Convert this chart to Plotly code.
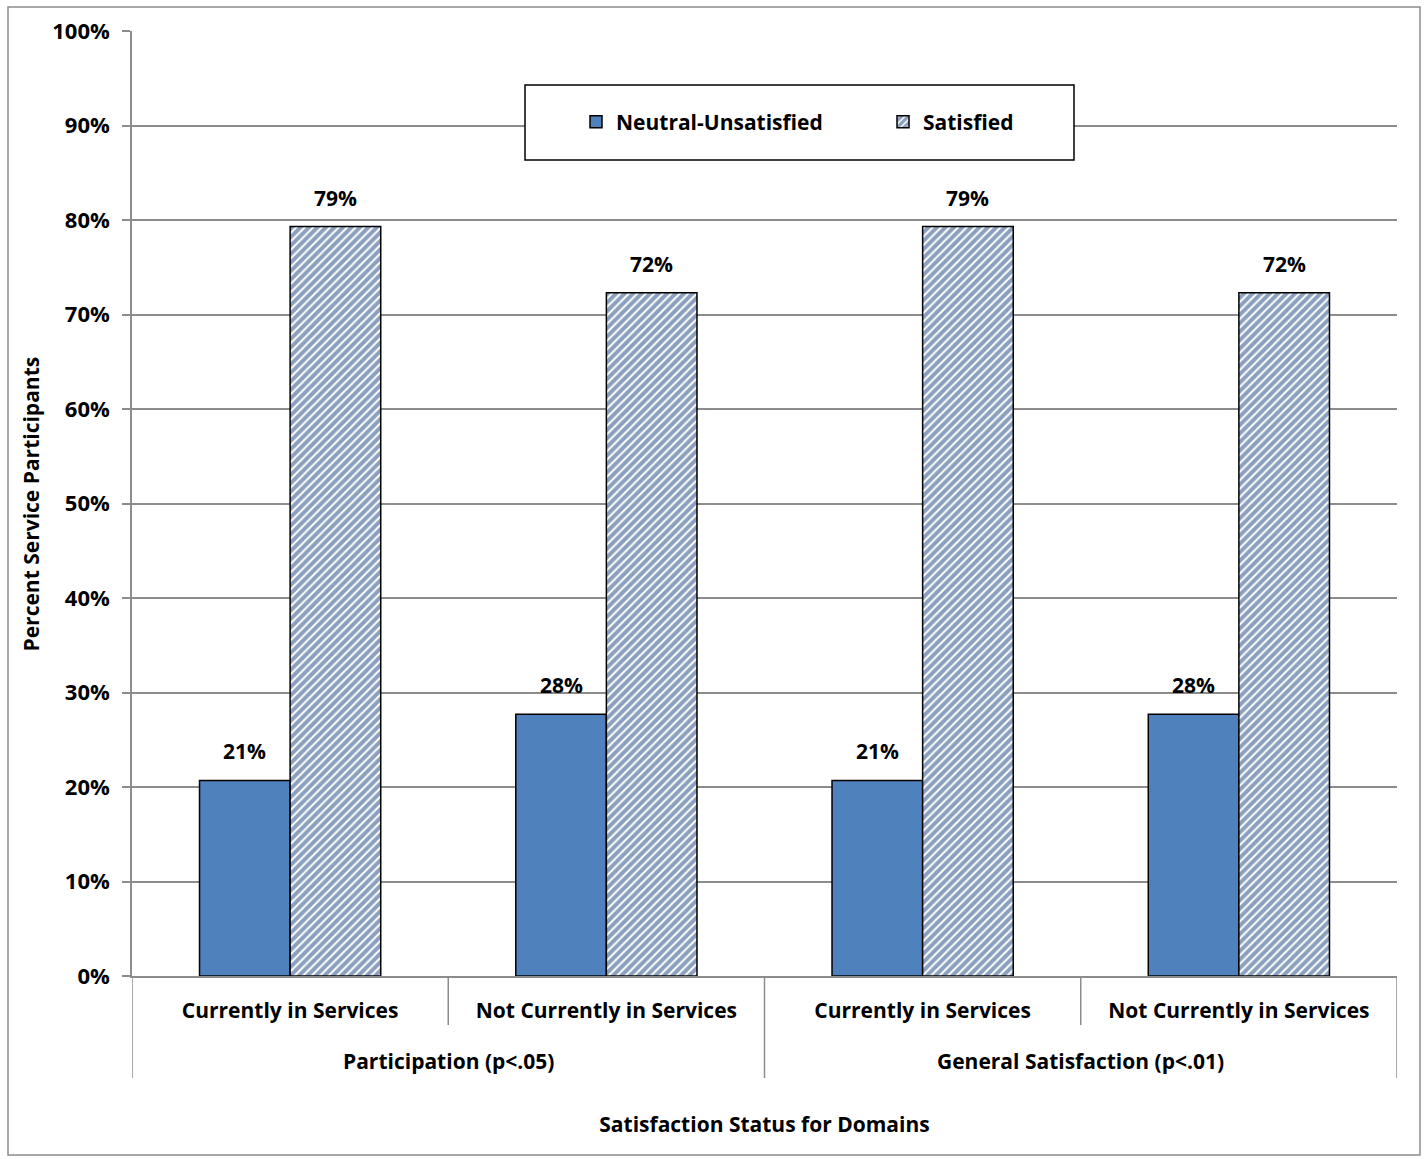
import plotly.graph_objects as go

# Survey results: share of service participants by satisfaction status
domains = ["Participation (p<.05)", "General Satisfaction (p<.01)"]
status = ["Currently in Services", "Not Currently in Services",
          "Currently in Services", "Not Currently in Services"]
neutral_unsatisfied = [20.7, 27.7, 20.7, 27.7]
satisfied = [79.3, 72.3, 79.3, 72.3]
y_ticks = list(range(0, 101, 10))

FONT = "Open Sans"
BLUE = "#4F81BD"
STRIPE = "#17427D"
GRID = "#8C8C8C"
BAR_GAP = 0.427

pos = list(range(len(status)))

fig = go.Figure()
fig.add_trace(go.Bar(
    name="Neutral-Unsatisfied", x=pos, y=neutral_unsatisfied,
    marker=dict(color=BLUE, line=dict(color="black", width=1.5)),
))
fig.add_trace(go.Bar(
    name="Satisfied", x=pos, y=satisfied,
    marker=dict(color="white", line=dict(color="black", width=1.5),
                pattern=dict(shape="/", fgcolor=STRIPE, bgcolor="white",
                             size=6, solidity=0.68, fillmode="overlay")),
))

# value labels above each bar
half = (1 - BAR_GAP) / 4
for i in pos:
    for off, vals in ((-half, neutral_unsatisfied), (half, satisfied)):
        fig.add_annotation(x=i + off, y=vals[i], text=f"{vals[i]:.0f}%",
                           showarrow=False, yanchor="bottom", yshift=13,
                           font=dict(family=FONT, size=21, weight="bold"))

# category dividers below the axis
for b in [p - 0.5 for p in pos] + [pos[-1] + 0.5]:
    outer = (b + 0.5) % 2 == 0
    fig.add_shape(type="line", xref="x", yref="paper", x0=b, x1=b,
                  y0=0, y1=-(102 if outer else 49) / 945,
                  line=dict(color=GRID, width=1.5))

# domain labels (second row of the category axis)
for g, name in enumerate(domains):
    fig.add_annotation(x=2 * g + 0.5, y=0, yref="paper", yshift=-85,
                       text=name, showarrow=False, yanchor="middle",
                       font=dict(family=FONT, size=21, weight="bold"))

# y-axis title
fig.add_annotation(x=(30 - 132) / 1265, xref="paper", y=0.5, yref="paper",
                   text="Percent Service Participants", textangle=-90,
                   showarrow=False, xanchor="center", yanchor="middle",
                   font=dict(family=FONT, size=21, weight="bold"))

# legend frame
fig.add_shape(type="rect", xref="paper", yref="paper",
              x0=(525 - 132) / 1265, x1=(1074 - 132) / 1265,
              y0=1 - (160 - 31) / 945, y1=1 - (85 - 31) / 945,
              line=dict(color="black", width=1.5), fillcolor="white",
              layer="above")
# outer chart border
fig.add_shape(type="rect", xref="paper", yref="paper",
              x0=(8 - 132) / 1265, x1=(1420 - 132) / 1265,
              y0=1 - (1155 - 31) / 945, y1=1 - (7 - 31) / 945,
              line=dict(color=GRID, width=1.5), fillcolor="rgba(0,0,0,0)",
              layer="below")

fig.update_layout(
    width=1428, height=1159,
    margin=dict(l=132, r=31, t=31, b=183),
    paper_bgcolor="white", plot_bgcolor="white",
    barmode="group", bargap=BAR_GAP, bargroupgap=0,
    font=dict(family=FONT, size=21, color="black"),
    showlegend=True,
    legend=dict(orientation="h", x=(576 - 132) / 1265, xanchor="left",
                y=1 - (122 - 31) / 945, yanchor="middle",
                bgcolor="rgba(0,0,0,0)", borderwidth=0,
                font=dict(family=FONT, size=21, color="black", weight="bold"),
                entrywidth=262, itemwidth=30),
    xaxis=dict(
        range=[-0.5, 3.5], tickvals=pos, ticktext=status,
        showline=True, linecolor=GRID, linewidth=1.5,
        ticks="", showgrid=False, zeroline=False,
        tickfont=dict(family=FONT, size=21, color="black", weight="bold"),
        ticklabelstandoff=15,
        title=dict(text="Satisfaction Status for Domains",
                   font=dict(family=FONT, size=21, weight="bold"),
                   standoff=94),
    ),
    yaxis=dict(
        range=[0, 100], tickvals=y_ticks,
        ticktext=[f"{t}%" for t in y_ticks],
        showgrid=True, gridcolor=GRID, gridwidth=1.5,
        showline=True, linecolor=GRID, linewidth=1.5,
        ticks="outside", ticklen=8, tickcolor=GRID, tickwidth=1.5,
        tickfont=dict(family=FONT, size=22, color="black", weight="bold"),
        ticklabelstandoff=8,
        zeroline=False,
    ),
)

fig.write_html("out.html")
